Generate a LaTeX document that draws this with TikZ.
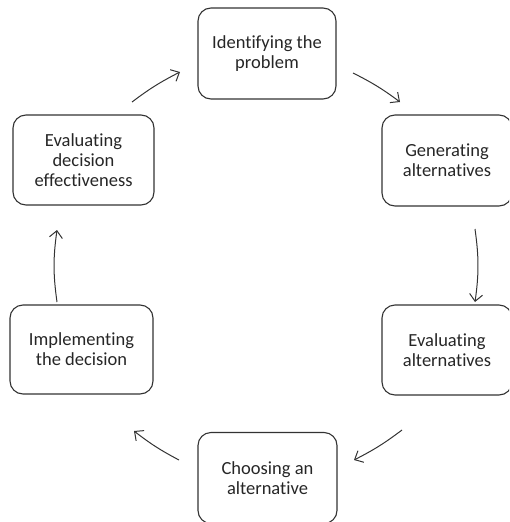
\documentclass[tikz,border=0pt]{standalone}
\usepackage{fontspec}
\setmainfont{Carlito}[Ligatures=NoCommon]
\usetikzlibrary{arrows.meta}
\begin{document}
\begin{tikzpicture}[x=1pt,y=-1pt,
  stepbox/.style={draw=black!80, line width=1.1pt, rounded corners=13pt, align=center,
    font=\fontsize{18.5}{20}\selectfont, text=black!85, inner sep=0pt},
  flow/.style={draw=black!80, line width=1pt, -{Straight Barb[length=7pt,width=13pt,line width=1pt]}}]
\useasboundingbox (0,0) rectangle (509,522);
\clip (0,0) rectangle (509,522);
\node[stepbox, minimum width=138pt, minimum height=91pt] (a) at (267,53.5) {Identifying the\\problem};
\node[stepbox, minimum width=130pt, minimum height=91pt] (b) at (447,160.5) {Generating\\alternatives};
\node[stepbox, minimum width=130pt, minimum height=90pt] (c) at (447,350) {Evaluating\\alternatives};
\node[stepbox, minimum width=139pt, minimum height=91pt] (d) at (267.5,478) {Choosing an\\alternative};
\node[stepbox, minimum width=143pt, minimum height=89pt] (e) at (81.5,349.5) {Implementing\\the decision};
\node[stepbox, minimum width=141pt, minimum height=90pt] (f) at (83.5,160) {Evaluating\\decision\\effectiveness};
\coordinate (a1) at (353,73); \coordinate (a2) at (400,102);
\coordinate (b1) at (475,229); \coordinate (b2) at (475,302);
\coordinate (c1) at (402,430); \coordinate (c2) at (354,460);
\coordinate (d1) at (179,460); \coordinate (d2) at (134,431);
\coordinate (e1) at (57,302); \coordinate (e2) at (57,230);
\coordinate (f1) at (132,102); \coordinate (f2) at (180,72);
\draw[flow] (a1) to[bend left=5] (a2);
\draw[flow] (b1) to[bend left=8] (b2);
\draw[flow] (c1) to[bend left=5] (c2);
\draw[flow] (d1) to[bend left=5] (d2);
\draw[flow] (e1) to[bend left=8] (e2);
\draw[flow] (f1) to[bend left=5] (f2);
\end{tikzpicture}
\end{document}
